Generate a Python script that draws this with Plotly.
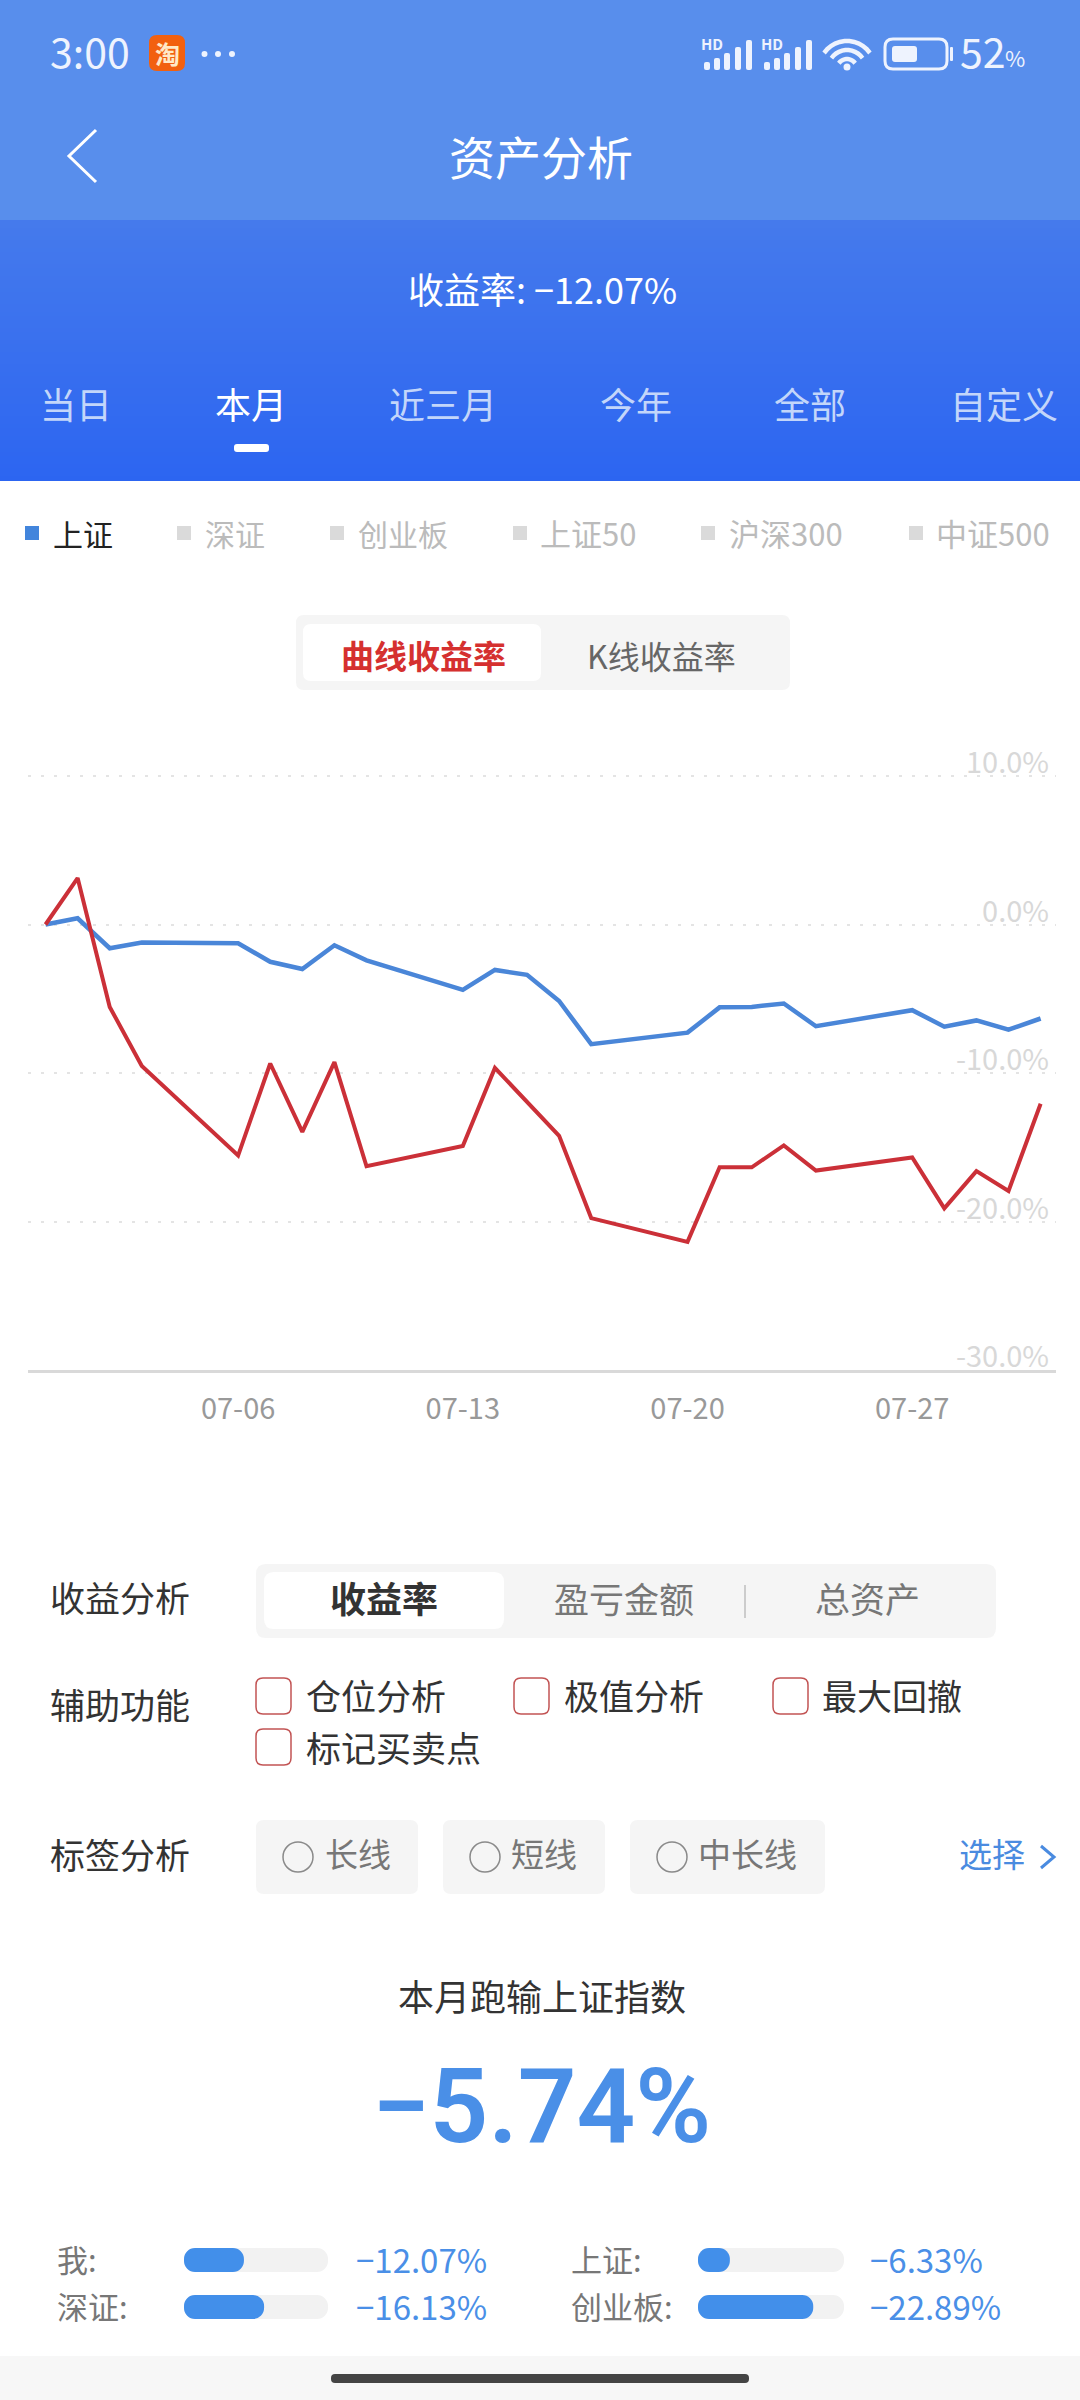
import math
import plotly.graph_objects as go

W, H = 1080, 2400
FONT = "Noto Sans CJK SC"

dates = ["2020-06-30", "2020-07-01", "2020-07-02", "2020-07-03", "2020-07-06", "2020-07-07",
         "2020-07-08", "2020-07-09", "2020-07-10", "2020-07-13", "2020-07-14", "2020-07-15",
         "2020-07-16", "2020-07-17", "2020-07-20", "2020-07-21", "2020-07-22", "2020-07-23",
         "2020-07-24", "2020-07-27", "2020-07-28", "2020-07-29", "2020-07-30", "2020-07-31"]
shanghai = [0, 0.42, -1.60, -1.21, -1.27, -2.51, -3.00, -1.40, -2.41, -4.40, -3.06, -3.39,
            -5.15, -8.06, -7.28, -5.58, -5.55, -5.32, -6.85, -5.77, -6.88, -6.46, -7.08, -6.33]
mine = [0, 3.13, -5.55, -9.53, -15.56, -9.36, -13.96, -9.27, -16.28, -14.91, -9.66, -11.94,
        -14.23, -19.77, -21.37, -16.35, -16.35, -14.88, -16.57, -15.69, -19.12, -16.61, -17.94, -12.07]
x_ticks = ["2020-07-06", "2020-07-13", "2020-07-20", "2020-07-27"]
x_tick_labels = ["07-06", "07-13", "07-20", "07-27"]
y_ticks = [10, 0, -10, -20, -30]
y_tick_labels = ["10.0%", "0.0%", "-10.0%", "-20.0%", "-30.0%"]

range_tabs = ["当日", "本月", "近三月", "今年", "全部", "自定义"]
index_tabs = ["上证", "深证", "创业板", "上证50", "沪深300", "中证500"]
left_names = ["我:", "深证:"]
left_values = [12.07, 16.13]
right_names = ["上证:", "创业板:"]
right_values = [6.33, 22.89]
bar_full = 29


def px(x):
    return x / W


def py(y):
    return 1 - y / H


shapes, notes = [], []


def rrect(x0, y0, x1, y1, r, fill=None, line=None, lw=0):
    X0, X1, Y0, Y1 = px(x0), px(x1), py(y0), py(y1)
    rx, ry = r / W, r / H
    path = (f"M{X0+rx},{Y0} L{X1-rx},{Y0} Q{X1},{Y0} {X1},{Y0-ry} L{X1},{Y1+ry} Q{X1},{Y1} {X1-rx},{Y1} "
            f"L{X0+rx},{Y1} Q{X0},{Y1} {X0},{Y1+ry} L{X0},{Y0-ry} Q{X0},{Y0} {X0+rx},{Y0} Z")
    shapes.append(dict(type="path", path=path, xref="paper", yref="paper", layer="below",
                       fillcolor=fill or "rgba(0,0,0,0)",
                       line=dict(color=line or "rgba(0,0,0,0)", width=lw)))


def rect(x0, y0, x1, y1, fill, layer="below"):
    shapes.append(dict(type="rect", xref="paper", yref="paper", layer=layer,
                       x0=px(x0), x1=px(x1), y0=py(y1), y1=py(y0),
                       fillcolor=fill, line=dict(width=0)))


def poly(points, color, lw):
    path = "M" + " L".join(f"{px(a)},{py(b)}" for a, b in points)
    shapes.append(dict(type="path", path=path, xref="paper", yref="paper", layer="below",
                       line=dict(color=color, width=lw)))


def circle(cx, cy, r, fill=None, line=None, lw=0):
    shapes.append(dict(type="circle", xref="paper", yref="paper", layer="below",
                       x0=px(cx - r), x1=px(cx + r), y0=py(cy + r), y1=py(cy - r),
                       fillcolor=fill or "rgba(0,0,0,0)",
                       line=dict(color=line or "rgba(0,0,0,0)", width=lw)))


TEXT_SHIFT = -3


def text(x, y, s, size, color, anchor="center", bold=False, family=FONT, weight=None):
    t = f"<b>{s}</b>" if bold else s
    f = dict(family=family, size=size, color=color)
    if weight:
        f["weight"] = weight
    notes.append(dict(x=px(x), y=py(y + TEXT_SHIFT), xref="paper", yref="paper", text=t, showarrow=False,
                      xanchor=anchor, yanchor="middle", font=f))


def mix(a, b, t):
    return "rgb(" + ",".join(str(round(a[i] + (b[i] - a[i]) * t)) for i in range(3)) + ")"


# header background
rect(0, 0, W, 221, "#588EEC")
for y in range(220, 481, 4):
    t = (y - 220) / 261
    rect(0, y, W, min(y + 5, 481), mix((69, 122, 236), (44, 101, 241), t))

# status bar
text(90, 53, "3:00", 41, "#EEF3FE")
rrect(149, 35, 185, 71, 8, fill="#F2600F")
text(167, 56, "淘", 25, "#FFE9C8", bold=True)
for cx in (204.5, 218, 232):
    circle(cx, 54, 3, fill="#EEF3FE")
for ox in (0, 60):
    text(712 + ox, 47, "HD", 15, "#EEF3FE", bold=True)
    for bx, top in zip((704, 714, 724, 735, 746), (62, 58, 53, 47, 40)):
        rrect(bx + ox, top, bx + ox + 6, 70, 2, fill="#EEF3FE")
for r in (28, 19, 10):
    pts = [(847 + r * math.cos(math.radians(a)), 69 - r * math.sin(math.radians(a)))
           for a in range(35, 146, 10)]
    poly(pts, "#EEF3FE", 4.5)
circle(847, 67, 3.5, fill="#EEF3FE")
rrect(885, 39, 947, 69, 8, line="#EEF3FE", lw=3)
rrect(892, 46, 917, 62, 3, fill="#EEF3FE")
rrect(950, 47, 953, 61, 1, fill="#EEF3FE")
text(983, 53, "52", 41, "#EEF3FE")
text(1015, 60, "%", 22, "#EEF3FE")

# nav bar
poly([(96, 130), (69, 156), (96, 182)], "#FFFFFF", 3)
text(541, 158, "资产分析", 46, "#FFFFFF")
text(542, 291, "收益率: −12.07%", 36, "#FFFFFF")

for s, cx in zip(range_tabs, (76, 250.5, 442.5, 636, 810, 1004)):
    text(cx, 406.5, s, 36, "#FFFFFF" if s == "本月" else "#C3D6FA")
rrect(234, 444, 269, 452, 3, fill="#FFFFFF")

# index legend
for i, (s, sx, cx) in enumerate(zip(index_tabs, (25, 177, 330, 513, 701, 909), (83, 235, 403, 588, 786, 993))):
    rect(sx, 526, sx + 14, 540, "#4285DC" if i == 0 else "#DADADA")
    text(cx, 535.5, s, 31 if i > 2 else 30, "#222222" if i == 0 else "#BBBBBB")

# line/k toggle
rrect(296, 615, 790, 690, 8, fill="#F5F5F5")
rrect(303, 624, 541, 681, 8, fill="#FFFFFF")
text(423, 657.5, "曲线收益率", 33, "#D5302F", bold=True)
text(661, 657.5, "K线收益率", 32, "#666666")

# analysis rows
text(120, 1599, "收益分析", 35, "#333333")
rrect(256, 1564, 996, 1638, 10, fill="#F5F5F5")
rrect(264, 1572, 504, 1629, 10, fill="#FFFFFF")
text(384, 1600, "收益率", 36, "#333333", bold=True)
text(624, 1600, "盈亏金额", 35, "#777777")
rect(744, 1585, 746, 1618, "#CCCCCC")
text(867, 1600, "总资产", 35, "#777777")

text(120, 1706, "辅助功能", 35, "#333333")
for bx, by, s, cx, cy in ((256, 1678, "仓位分析", 376, 1697), (514, 1678, "极值分析", 634, 1697),
                          (773, 1678, "最大回撤", 892, 1697), (256, 1729, "标记买卖点", 393, 1749.5)):
    rrect(bx, by, bx + 35, by + 36, 7, line="#C25454", lw=1.5)
    text(cx, cy, s, 35, "#333333")

text(120, 1856, "标签分析", 35, "#333333")
for x0, x1, ccx, s, tx in ((256, 418, 298, "长线", 358), (443, 605, 485, "短线", 544), (630, 825, 672, "中长线", 748)):
    rrect(x0, 1820, x1, 1894, 8, fill="#F5F5F5")
    circle(ccx, 1857, 15, line="#8A8A8A", lw=1.5)
    text(tx, 1856, s, 33, "#777777")
text(992, 1856, "选择", 33, "#4A8BE0")
poly([(1041, 1846), (1054, 1857), (1041, 1868)], "#4A8BE0", 3)

# summary
text(542, 1998, "本月跑输上证指数", 36, "#333333")
text(541, 2109, "−5.74%", 103, "#4A8FE7", family="Roboto", weight=600)
for rowy, n, v in zip((2261.5, 2308.5), left_names, left_values):
    text(55, rowy, n, 31, "#777777", "left")
    text(354, rowy, f"−{v:.2f}%", 33, "#4A8FE7", "left")
for rowy, n, v in zip((2261.5, 2308.5), right_names, right_values):
    text(569, rowy, n, 31, "#777777", "left")
    text(868, rowy, f"−{v:.2f}%", 33, "#4A8FE7", "left")

# bottom nav
rect(0, 2356, W, H, "#F7F7F7")
rrect(331, 2374, 749, 2383, 4, fill="#444444")

fig = go.Figure()
# invisible carrier for the right-hand label axis
fig.add_trace(go.Scatter(x=[dates[0]], y=[0], yaxis="y2", mode="lines", hoverinfo="skip", showlegend=False,
                         line=dict(width=0)))
fig.add_trace(go.Scatter(x=dates, y=shanghai, mode="lines", name="上证", showlegend=False,
                         line=dict(color="#4A86D8", width=4.5)))
fig.add_trace(go.Scatter(x=dates, y=mine, mode="lines", name="我", showlegend=False,
                         line=dict(color="#CB3038", width=4)))

rows = [0, 1]
for xa, ya, vals in (("x3", "y3", left_values), ("x4", "y4", right_values)):
    fig.add_trace(go.Bar(x=[bar_full, bar_full], y=rows, base=[0, 0], orientation="h", xaxis=xa, yaxis=ya,
                         showlegend=False, width=0.51,
                         marker=dict(color="#F2F2F2", cornerradius=12, line=dict(width=0))))
    fig.add_trace(go.Bar(x=vals, y=rows, base=[0, 0], orientation="h", xaxis=xa, yaxis=ya,
                         showlegend=False, width=0.51,
                         marker=dict(color="#428FEA", cornerradius=12, line=dict(width=0))))

# the dotted grid starts a little inside the baseline
rect(27, 760, 33, 1360, "#FFFFFF", layer="between")

hidden = dict(visible=False, fixedrange=True)
UNIT = 14.85
fig.update_layout(
    width=W, height=H, margin=dict(l=0, r=0, t=0, b=0),
    paper_bgcolor="#FFFFFF", plot_bgcolor="rgba(0,0,0,0)",
    font=dict(family=FONT), barmode="overlay", shapes=shapes, annotations=notes,
    xaxis=dict(domain=[px(28), px(1056)], type="date",
               range=["2020-06-29 10:54", "2020-07-31 11:30"],
               tickvals=x_ticks, ticktext=x_tick_labels, tickfont=dict(size=29, color="#999999", family=FONT),
               showgrid=False, zeroline=False, showline=True, linecolor="#D9D9D9", linewidth=3,
               ticks="", ticklabelstandoff=11, anchor="y"),
    yaxis=dict(domain=[py(1370), py(776 - UNIT)], range=[-30, 11], tickvals=y_ticks, showticklabels=False,
               showgrid=True, gridcolor="#E4E4E4", gridwidth=2, griddash="3px 10px",
               zeroline=False, showline=False, ticks="", anchor="x"),
    yaxis2=dict(domain=[py(1357 + 4 * UNIT), py(763 - 4 * UNIT)], range=[-34, 14], tickvals=y_ticks, ticktext=y_tick_labels,
                tickfont=dict(size=29, color="#D8D8D8", family=FONT), side="right", anchor="free",
                position=px(1052), ticklabelposition="inside", showgrid=False, zeroline=False,
                showline=False, ticks=""),
    xaxis3=dict(domain=[px(184), px(328)], range=[0, bar_full], anchor="y3", **hidden),
    yaxis3=dict(domain=[py(2330.5), py(2236.5)], range=[1.5, -0.5], anchor="x3", **hidden),
    xaxis4=dict(domain=[px(698), px(844)], range=[0, bar_full], anchor="y4", **hidden),
    yaxis4=dict(domain=[py(2330.5), py(2236.5)], range=[1.5, -0.5], anchor="x4", **hidden),
)

fig.write_html("out.html", config=dict(displayModeBar=False),
               post_script="document.body.style.margin='0';")
